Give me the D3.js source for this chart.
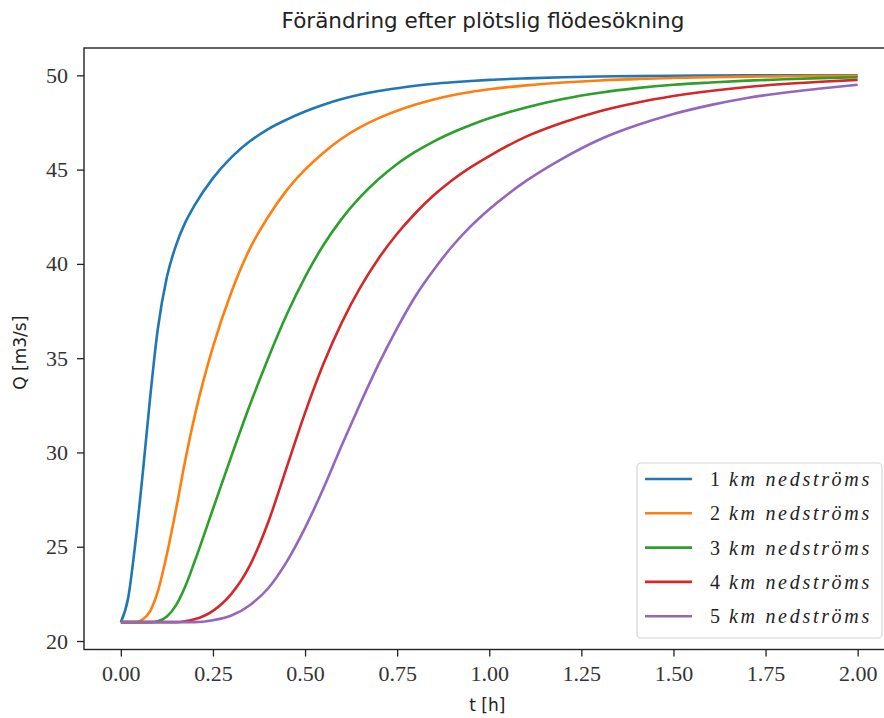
<!DOCTYPE html>
<html>
<head>
<meta charset="utf-8">
<script src="https://cdn.jsdelivr.net/npm/d3@7"></script>
<style>
  body { margin: 0; background: #fff; }
  svg { display: block; }
</style>
</head>
<body>
<div id="chart"></div>
<script>
// time axis (hours)
const tHours = [0, 0.02, 0.04, 0.06, 0.08, 0.1, 0.125, 0.15, 0.175, 0.2, 0.25, 0.3, 0.35, 0.4, 0.45,
  0.5, 0.55, 0.6, 0.65, 0.7, 0.75, 0.8, 0.85, 0.9, 0.95, 1.0, 1.1, 1.2, 1.3, 1.4, 1.5, 1.6, 1.7, 1.8, 1.9, 2.0];

// Q [m3/s] per distance
const q1km = [21, 22.3, 25.3, 29.0, 33.0, 36.5, 39.3, 41.0, 42.2, 43.1, 44.55, 45.65, 46.5, 47.15, 47.65,
  48.08, 48.44, 48.74, 48.98, 49.17, 49.32, 49.45, 49.55, 49.63, 49.7, 49.76, 49.84, 49.9, 49.94, 49.96, 49.98, 49.99, 50, 50, 50, 50];
const q2km = [21, 21, 21, 21.15, 21.6, 22.6, 24.6, 27.0, 29.6, 31.9, 35.6, 38.5, 40.8, 42.5, 43.9,
  45.0, 45.9, 46.65, 47.25, 47.73, 48.12, 48.45, 48.72, 48.94, 49.12, 49.26, 49.47, 49.62, 49.73, 49.8, 49.86, 49.9, 49.93, 49.95, 49.97, 49.98];
const q3km = [21, 21, 21, 21, 21, 21.05, 21.3, 21.9, 22.9, 24.2, 27.0, 29.8, 32.5, 35.0, 37.3,
  39.3, 41.0, 42.4, 43.55, 44.5, 45.3, 45.95, 46.5, 46.97, 47.37, 47.72, 48.3, 48.75, 49.08, 49.32, 49.5, 49.62, 49.72, 49.79, 49.85, 49.9];
const q4km = [21, 21, 21, 21, 21, 21, 21, 21, 21.05, 21.15, 21.6, 22.5, 24.0, 26.3, 29.2,
  32.1, 34.7, 36.9, 38.75, 40.3, 41.6, 42.7, 43.65, 44.45, 45.13, 45.72, 46.75, 47.5, 48.1, 48.55, 48.9, 49.17, 49.38, 49.54, 49.66, 49.76];
const q5km = [21, 21, 21, 21, 21, 21, 21, 21, 21, 21, 21.1, 21.35, 21.9, 22.8, 24.2,
  26.0, 28.1, 30.4, 32.6, 34.7, 36.6, 38.3, 39.7, 40.95, 42.0, 42.9, 44.4, 45.6, 46.6, 47.35, 47.95, 48.42, 48.8, 49.08, 49.3, 49.5];

const seriesNames = ["1", "2", "3", "4", "5"];
const seriesValues = [q1km, q2km, q3km, q4km, q5km];
const colors = ["#1f77b4", "#ff7f0e", "#2ca02c", "#d62728", "#9467bd"];

const xTicks = [0, 0.25, 0.5, 0.75, 1.0, 1.25, 1.5, 1.75, 2.0];
const yTicks = [20, 25, 30, 35, 40, 45, 50];

const width = 884, height = 718;
const margin = {top: 48, right: -10.5, bottom: 68.5, left: 84};

const svg = d3.select("#chart").append("svg")
  .attr("width", width)
  .attr("height", height);

const xScale = d3.scaleLinear()
  .domain([-0.1, 2.1])
  .range([margin.left, width - margin.right]);
const yScale = d3.scaleLinear()
  .domain([19.55, 51.45])
  .range([height - margin.bottom, margin.top]);

const serif = "'Liberation Serif', 'Times New Roman', serif";
const sans = "'DejaVu Sans', 'Open Sans', sans-serif";

// curves
const line = d3.line()
  .x((d, i) => xScale(tHours[i]))
  .y(d => yScale(d))
  .curve(d3.curveMonotoneX);

svg.append("g")
  .selectAll("path")
  .data(seriesValues)
  .join("path")
    .attr("d", line)
    .attr("fill", "none")
    .attr("stroke", (d, i) => colors[i])
    .attr("stroke-width", 2.6)
    .attr("stroke-linejoin", "round");

// axes
const xAxis = svg.append("g")
  .attr("transform", `translate(0, ${height - margin.bottom})`)
  .call(d3.axisBottom(xScale).tickValues(xTicks).tickFormat(d3.format(".2f")).tickSizeOuter(0).tickSize(7).tickPadding(9));
const yAxis = svg.append("g")
  .attr("transform", `translate(${margin.left}, 0)`)
  .call(d3.axisLeft(yScale).tickValues(yTicks).tickSizeOuter(0).tickSize(7).tickPadding(9));

[xAxis, yAxis].forEach(ax => {
  ax.select(".domain").remove();
  ax.selectAll("line").attr("stroke", "#222").attr("stroke-width", 1.3);
  ax.selectAll("text")
    .attr("fill", "#333")
    .style("font-family", serif)
    .style("font-size", "22px");
});

// frame
svg.append("rect")
  .attr("x", margin.left)
  .attr("y", margin.top)
  .attr("width", xScale.range()[1] - margin.left)
  .attr("height", height - margin.bottom - margin.top)
  .attr("fill", "none")
  .attr("stroke", "#222")
  .attr("stroke-width", 1.4);

// title and labels
svg.append("text")
  .attr("x", 483)
  .attr("y", 28)
  .attr("text-anchor", "middle")
  .attr("fill", "#222")
  .style("font-family", sans)
  .style("font-size", "21.5px")
  .text("Förändring efter plötslig flödesökning");

svg.append("text")
  .attr("x", xScale(1) - 2)
  .attr("y", 711)
  .attr("text-anchor", "middle")
  .attr("fill", "#222")
  .style("font-family", sans)
  .style("font-size", "17px")
  .text("t [h]");

svg.append("text")
  .attr("transform", `translate(26, ${(margin.top + height - margin.bottom) / 2 + 4}) rotate(-90)`)
  .attr("text-anchor", "middle")
  .attr("fill", "#222")
  .style("font-family", sans)
  .style("font-size", "17px")
  .text("Q [m3/s]");

// legend
const legend = svg.append("g").attr("transform", "translate(637, 463)");
legend.append("rect")
  .attr("width", 245)
  .attr("height", 175)
  .attr("rx", 4)
  .attr("fill", "#fff")
  .attr("fill-opacity", 0.8)
  .attr("stroke", "#d6d6d6")
  .attr("stroke-width", 1.2);

const rows = legend.selectAll("g.row")
  .data(seriesNames)
  .join("g")
    .attr("class", "row")
    .attr("transform", (d, i) => `translate(0, ${16 + i * 34.3})`);

rows.append("line")
  .attr("x1", 8).attr("x2", 55)
  .attr("stroke", (d, i) => colors[i])
  .attr("stroke-width", 2.6);

const label = rows.append("text")
  .attr("x", 73)
  .attr("y", 7)
  .attr("fill", "#222")
  .style("font-family", serif)
  .style("font-size", "20px");
label.append("tspan").text(d => d);
label.append("tspan")
  .attr("dx", 9)
  .style("font-style", "italic")
  .style("letter-spacing", "2.7px")
  .text("km nedströms");
</script>
</body>
</html>
